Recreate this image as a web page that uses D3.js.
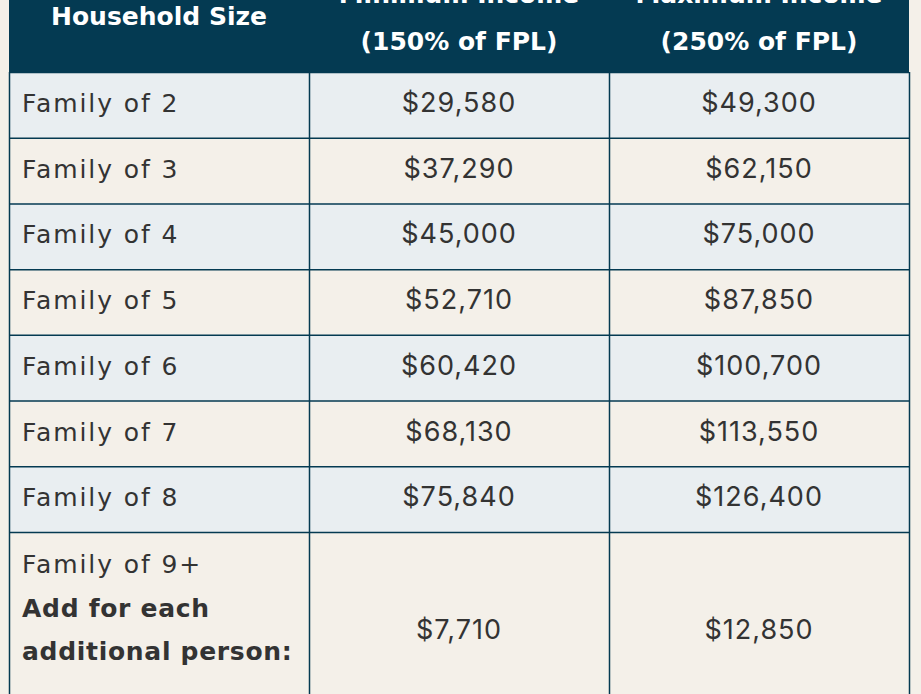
<!doctype html>
<html>
  <head>
    <title>Income limits by household size</title>
    <script src="https://d3js.org/d3.v7.min.js"></script>
    <style>
      body { margin: 0; background: #f4f0e9; }
      svg { display: block; }
    </style>
  </head>
  <body>
    <svg id="chart" width="921" height="694"></svg>

    <script>
      // table contents
      var headers = [
        ['Household Size'],
        ['Minimum Income', '(150% of FPL)'],
        ['Maximum Income', '(250% of FPL)']
      ]
      var households = ['Family of 2', 'Family of 3', 'Family of 4', 'Family of 5', 'Family of 6', 'Family of 7', 'Family of 8']
      var minIncome = [29580, 37290, 45000, 52710, 60420, 68130, 75840]
      var maxIncome = [49300, 62150, 75000, 87850, 100700, 113550, 126400]
      var extraLabel = ['Family of 9+', 'Add for each', 'additional person:']
      var extraMin = 7710
      var extraMax = 12850

      var navy = '#043a52'
      var ink = '#333333'
      var labelFont = 'DejaVu Sans, sans-serif'
      var numFont = 'Inter, sans-serif'
      var fmt = d3.format('$,')

      var svg = d3.select('#chart')

      var x = d3.scaleBand().domain([0, 1, 2]).range([9, 909])
      // row tops: header ends at 72, each row ~65.7px
      var y = d3.scaleLinear().domain([0, 7]).range([72, 532])

      var rows = households.map((h, i) => ({ label: h, min: minIncome[i], max: maxIncome[i], i: i }))

      // header band
      svg.append('rect')
        .attr('x', x(0)).attr('y', -45)
        .attr('width', x.bandwidth() * 3).attr('height', 45 + y(0))
        .attr('fill', navy)

      // body rows
      var g = svg.selectAll('g.row').data(rows).enter().append('g').attr('class', 'row')
      g.append('rect')
        .attr('x', x(0)).attr('y', (d) => y(d.i))
        .attr('width', x.bandwidth() * 3).attr('height', (d) => y(d.i + 1) - y(d.i))
        .attr('fill', (d) => (d.i % 2 === 0 ? '#e9eef1' : '#f4f0e9'))

      // last (tall) row
      var lastTop = y(7)
      var lastH = 200
      svg.append('rect')
        .attr('x', x(0)).attr('y', lastTop)
        .attr('width', x.bandwidth() * 3).attr('height', lastH)
        .attr('fill', '#f4f0e9')

      // grid lines
      var hLines = d3.range(0, 8).map((i) => y(i))
      svg.selectAll('line.h').data(hLines).enter().append('line')
        .attr('x1', x(0)).attr('x2', x(2) + x.bandwidth())
        .attr('y1', (d) => d + 0.5).attr('y2', (d) => d + 0.5)
        .attr('stroke', navy).attr('stroke-width', 1.5)
      var vLines = [x(0), x(1), x(2), x(2) + x.bandwidth()]
      svg.selectAll('line.v').data(vLines).enter().append('line')
        .attr('x1', (d) => d + 0.5).attr('x2', (d) => d + 0.5)
        .attr('y1', y(0)).attr('y2', 694)
        .attr('stroke', navy).attr('stroke-width', 1.5)

      // header text (first line of the two-line headers sits above the top edge)
      headers.forEach((lines, c) => {
        var base = lines.length === 1 ? [25] : [3, 50]
        lines.forEach((t, k) => {
          svg.append('text')
            .attr('x', x(c) + x.bandwidth() / 2).attr('y', base[k])
            .attr('text-anchor', 'middle')
            .attr('font-family', labelFont)
            .attr('font-weight', 700).attr('font-size', 25)
            .attr('fill', '#ffffff')
            .text(t)
        })
      })

      // body text
      g.append('text')
        .attr('x', 22).attr('y', (d) => y(d.i) + 40)
        .attr('font-family', labelFont)
        .attr('font-size', 25).attr('letter-spacing', 1.9).attr('fill', ink)
        .text((d) => d.label)
      g.append('text')
        .attr('x', x(1) + x.bandwidth() / 2).attr('y', (d) => y(d.i) + 40)
        .attr('text-anchor', 'middle')
        .attr('font-family', numFont)
        .attr('font-size', 27).attr('letter-spacing', 1).attr('fill', ink)
        .text((d) => fmt(d.min))
      g.append('text')
        .attr('x', x(2) + x.bandwidth() / 2).attr('y', (d) => y(d.i) + 40)
        .attr('text-anchor', 'middle')
        .attr('font-family', numFont)
        .attr('font-size', 27).attr('letter-spacing', 1).attr('fill', ink)
        .text((d) => fmt(d.max))

      // last row text
      extraLabel.forEach((t, k) => {
        svg.append('text')
          .attr('x', 22).attr('y', lastTop + 41 + k * 43.5)
          .attr('font-family', labelFont)
          .attr('font-size', 25).attr('font-weight', k === 0 ? 400 : 700)
          .attr('letter-spacing', k === 0 ? 1.9 : 0.7)
          .attr('fill', ink)
          .text(t)
      })
      ;[extraMin, extraMax].forEach((v, c) => {
        svg.append('text')
          .attr('x', x(c + 1) + x.bandwidth() / 2).attr('y', lastTop + 107)
          .attr('text-anchor', 'middle')
          .attr('font-family', numFont)
          .attr('font-size', 27).attr('letter-spacing', 1).attr('fill', ink)
          .text(fmt(v))
      })
    </script>
  </body>
</html>
